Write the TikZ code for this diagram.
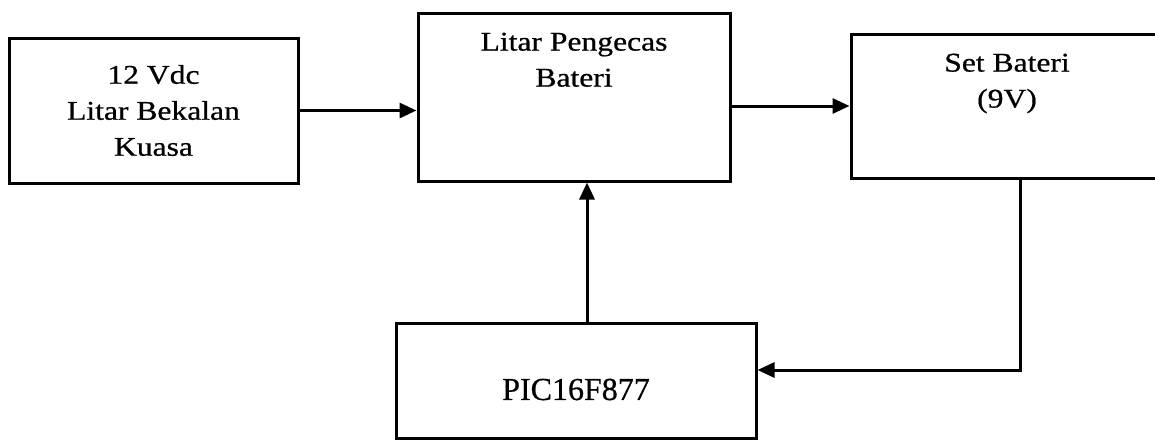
\documentclass[tikz,border=0pt]{standalone}
\usepackage{fontspec}
\setmainfont{Liberation Serif}[FakeBold=0.6]
\newfontfamily\widefont{Liberation Serif}[FakeStretch=1.17, FakeBold=0.7]
\usetikzlibrary{positioning, arrows.meta}

\begin{document}
\begin{tikzpicture}[x=1pt, y=-1pt,
    block/.style={rectangle, draw, line width=3pt, fill=white, inner sep=0pt},
    txt/.style={font=\widefont\fontsize{27}{36}\selectfont, align=center, inner sep=0pt},
    link/.style={line width=3pt, -{Triangle[length=17pt, width=15pt]}}]
    \clip (0,0) rectangle (1155,439);
    \fill[white] (0,0) rectangle (1155,439);

    % Draw nodes
    \node[block, txt, minimum width=289pt, minimum height=145pt] (supply) at (153.5,110.5) {12 Vdc\\Litar Bekalan\\Kuasa};
    \node[block, minimum width=312pt, minimum height=168pt] (charger) at (574,97) {};
    \node[block, minimum width=312pt, minimum height=144pt] (battery) at (1007,106) {};
    \node[block, minimum width=360pt, minimum height=115pt] (pic) at (576,380.5) {};

    % Labels
    \node[txt, below=21pt of charger.north] (chargerlbl) {Litar Pengecas\\Bateri};
    \node[txt, below=21pt of battery.north] (batterylbl) {Set Bateri\\(9V)};
    \node[txt, font=\fontsize{32}{38}\selectfont, below=57pt of pic.north] (piclbl) {PIC16F877};

    % Draw connections
    \draw[link] (supply.east) -- (supply.east -| charger.west);
    \draw[link] (battery.west -| charger.east) -- (battery.west);
    \draw[link] ([xshift=11pt]pic.north) -- ([xshift=11pt]pic.north |- charger.south);
    \draw[link] ([xshift=13pt]battery.south) |- ([yshift=10.5pt]pic.east);
\end{tikzpicture}
\end{document}
